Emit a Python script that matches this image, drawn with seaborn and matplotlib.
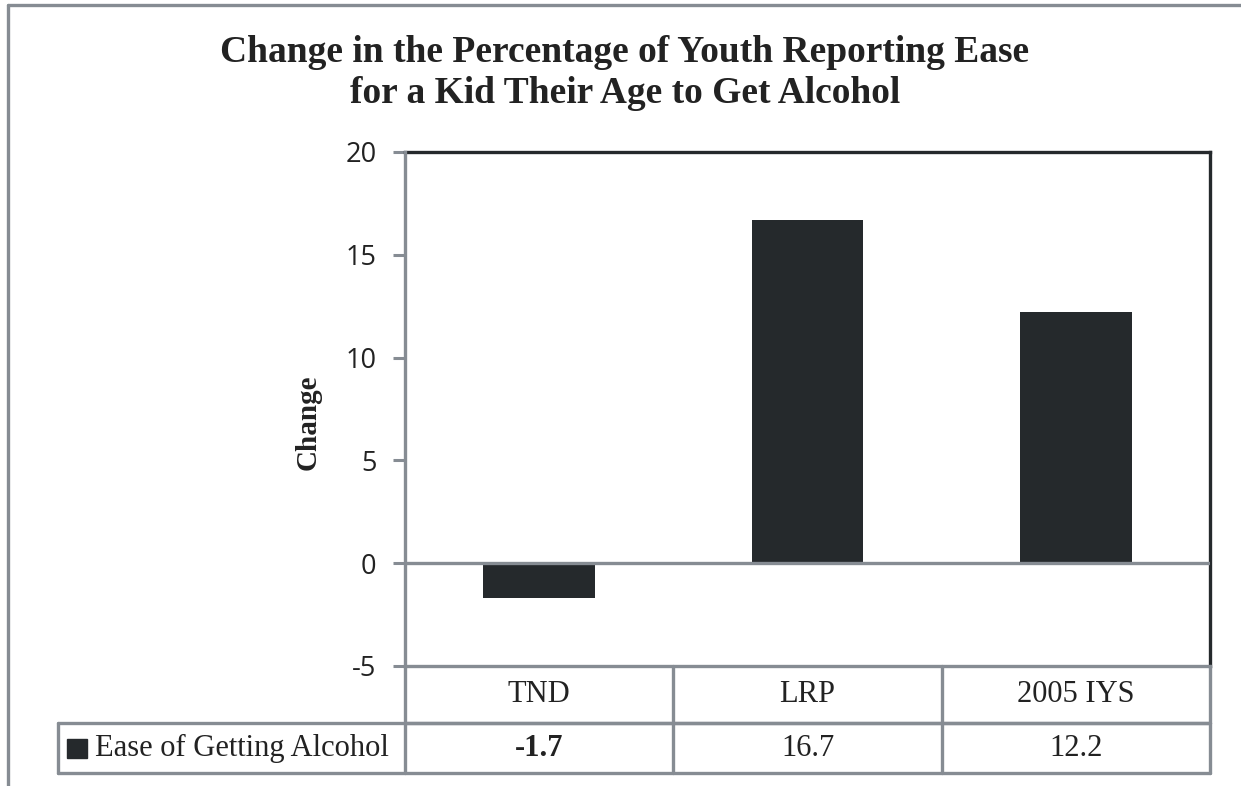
import matplotlib
matplotlib.use("Agg")
import matplotlib.pyplot as plt
from matplotlib.lines import Line2D
from matplotlib.patches import Rectangle
import seaborn as sns
import pandas as pd

# Data
categories = ["TND", "LRP", "2005 IYS"]
values = [-1.7, 16.7, 12.2]
series_name = "Ease of Getting Alcohol"
yticks = [-5, 0, 5, 10, 15, 20]

DARK = "#25292c"
GRAY = "#868c93"
SERIF = ["Liberation Serif", "DejaVu Serif"]
SANS = ["Open Sans", "DejaVu Sans"]

sns.set_theme(style="white")
plt.rcParams["font.family"] = SERIF

W, H = 1241, 786
fig = plt.figure(figsize=(W / 100, H / 100), dpi=100)
fig.patch.set_facecolor("white")

# plot area in pixel terms
L, R, T, B = 405, 1210, 152, 666
ax = fig.add_axes([L / W, 1 - B / H, (R - L) / W, (B - T) / H])

df = pd.DataFrame({"group": categories, "change": values})
sns.barplot(data=df, x="group", y="change", color=DARK, saturation=1,
            width=0.415, ax=ax, zorder=2, linewidth=0)

ax.set_ylim(-5, 20)
ax.set_xlim(-0.5, len(categories) - 0.5)
ax.set_yticks(yticks)
ax.set_yticklabels([str(t) for t in yticks], fontfamily=SANS, fontsize=19.5,
                   color="#222222")
ax.tick_params(axis="y", length=8.5, width=2.2, color=GRAY, pad=12, left=True)
ax.set_xticks(range(len(categories)))
ax.set_xticklabels([])
ax.tick_params(axis="x", length=0)
ax.set_xlabel("")
ax.set_ylabel("Change", fontfamily=SERIF, fontsize=21, fontweight="bold",
              color="#222222")
ax.yaxis.set_label_coords((322 - L) / (R - L), (B - 422) / (B - T))

# zero reference line drawn over the bars
ax.axhline(0, color=GRAY, lw=2.4, zorder=3)

for side in ["top", "right"]:
    ax.spines[side].set_color(DARK)
    ax.spines[side].set_linewidth(2.4)
for side in ["left", "bottom"]:
    ax.spines[side].set_color(GRAY)
    ax.spines[side].set_linewidth(2.4)
    ax.spines[side].set_zorder(4)

# data table below the axis
h1 = (723 - B) / (B - T)
h2 = (773 - 723) / (B - T)
xt = ax.get_xaxis_transform()
label_left = (58 - L) / (R - L)
tbl_kw = dict(color=GRAY, lw=2.4, clip_on=False, zorder=5)
n = len(categories)
# horizontal rules
ax.plot([-0.5, n - 0.5], [-h1, -h1], transform=xt, **tbl_kw)
ax.plot([label_left, 1], [-h1, -h1], transform=ax.transAxes, **tbl_kw)
ax.plot([label_left, 1], [-h1 - h2, -h1 - h2], transform=ax.transAxes, **tbl_kw)
# vertical rules
ax.plot([label_left, label_left], [-h1, -h1 - h2], transform=ax.transAxes, **tbl_kw)
for i in range(n + 1):
    ax.plot([i - 0.5, i - 0.5], [0, -h1 - h2], transform=xt, **tbl_kw)

for i, (cat, v) in enumerate(zip(categories, values)):
    ax.text(i, -h1 / 2, cat, transform=xt, ha="center", va="center",
            fontsize=22, color="#222222")
    ax.text(i, -h1 - h2 / 2, f"{v:.1f}", transform=xt, ha="center",
            va="center", fontsize=22, color="#222222",
            fontweight="bold" if v < 0 else "normal")

# legend key and series name in the row label cell
key_w = 20 / (R - L)
key_h = 19 / (B - T)
key_x = (67 - L) / (R - L)
ax.add_patch(Rectangle((key_x, -h1 - h2 / 2 - key_h / 2), key_w, key_h,
                       transform=ax.transAxes, color=DARK, clip_on=False,
                       zorder=5))
ax.text((95 - L) / (R - L), -h1 - h2 / 2, series_name, transform=ax.transAxes,
        ha="left", va="center", fontsize=22, color="#222222")

# title
fig.text(625 / W, 1 - 73 / H,
         "Change in the Percentage of Youth Reporting Ease\nfor a Kid Their Age to Get Alcohol",
         ha="center", va="center", fontsize=27, fontweight="bold",
         color="#222222", linespacing=1.2)

# outer frame (top and left)
fig.add_artist(Line2D([8 / W, 1], [1 - 5 / H, 1 - 5 / H], color=GRAY, lw=2.4,
                      transform=fig.transFigure))
fig.add_artist(Line2D([8 / W, 8 / W], [1 - 5 / H, 0], color=GRAY, lw=2.4,
                      transform=fig.transFigure))

fig.savefig("out.png", dpi=100, facecolor="white")
